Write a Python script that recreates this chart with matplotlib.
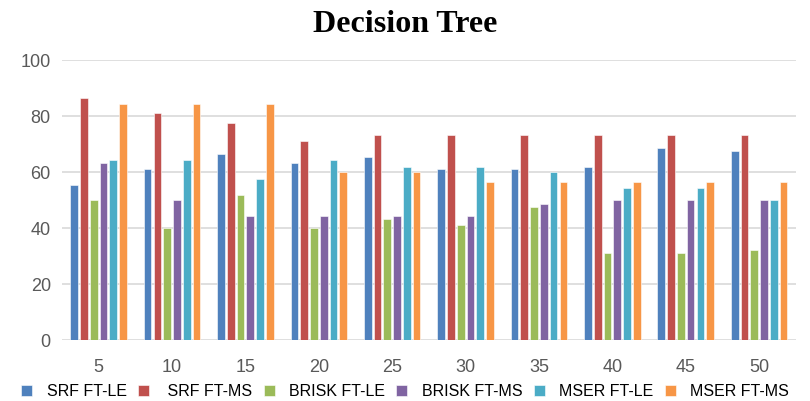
import matplotlib.pyplot as plt
import numpy as np

plt.rcParams['font.family'] = ['Liberation Sans', 'DejaVu Sans']

groups = ['5', '10', '15', '20', '25', '30', '35', '40', '45', '50']
series = ['SRF FT-LE', ' SRF FT-MS', 'BRISK FT-LE', 'BRISK FT-MS', 'MSER FT-LE', 'MSER FT-MS']
srf_le = [55.4, 61.0, 66.5, 63.2, 65.4, 61.0, 61.0, 62.0, 68.7, 67.7]
srf_ms = [86.5, 81.0, 77.7, 71.1, 73.2, 73.2, 73.2, 73.2, 73.2, 73.2]
brisk_le = [50.0, 40.0, 52.0, 40.0, 43.2, 41.0, 47.6, 31.0, 31.0, 32.0]
brisk_ms = [63.2, 50.0, 44.3, 44.3, 44.3, 44.3, 48.7, 50.0, 50.0, 50.0]
mser_le = [64.3, 64.3, 57.6, 64.3, 62.0, 62.0, 60.0, 54.3, 54.3, 50.0]
mser_ms = [84.3, 84.3, 84.3, 60.0, 60.0, 56.5, 56.5, 56.5, 56.5, 56.5]
colors = ['#4F81BD', '#C0504D', '#9BBB59', '#8064A2', '#4BACC6', '#F79646']

data = [srf_le, srf_ms, brisk_le, brisk_ms, mser_le, mser_ms]

fig = plt.figure(figsize=(8.1, 4.01), dpi=100)
ax = fig.add_axes([0.0765, 0.152, 0.906, 0.698])

x = np.arange(len(groups))
step = 0.133
w = 0.105
for i, vals in enumerate(data):
    ax.bar(x + (i - 2.5) * step, vals, w, color=colors[i], label=series[i],
           edgecolor='white', linewidth=0.4, zorder=3)

ax.set_ylim(0, 100)
ax.set_xlim(-0.5, len(groups) - 0.5)
ax.set_yticks(range(0, 101, 20))
ax.set_xticks(x)
ax.set_xticklabels(groups)
ax.grid(axis='y', color='#D9D9D9', linewidth=1.2, zorder=0)
for s in ['top', 'right', 'left', 'bottom']:
    ax.spines[s].set_visible(False)
ax.tick_params(length=0, labelsize=13, labelcolor='#595959')
ax.tick_params(axis='x', pad=14)
ax.tick_params(axis='y', pad=8)

fig.text(0.5, 0.938, 'Decision Tree', ha='center', va='center',
         fontsize=23, fontweight='bold', family='Liberation Serif')

fig.legend(loc='center', bbox_to_anchor=(0.5, 0.024), ncol=6, frameon=False,
           fontsize=11.5, handlelength=0.7, handleheight=0.7, handletextpad=0.9,
           columnspacing=0.7, borderaxespad=0, borderpad=0)

fig.savefig('out.png', dpi=100)
